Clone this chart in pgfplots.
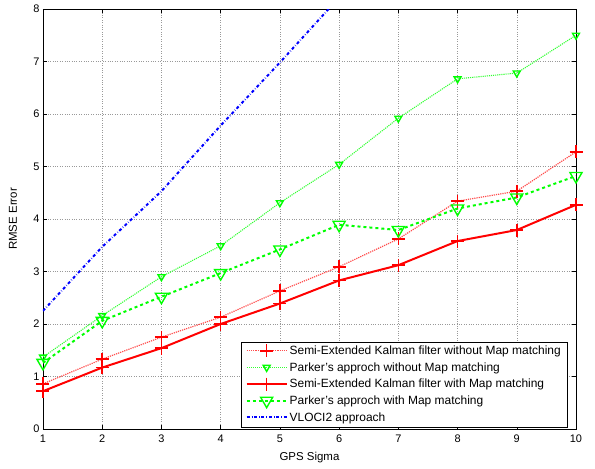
\documentclass[border=0pt]{standalone}
\usepackage{pgfplots}
\pgfplotsset{compat=1.18}
\usepackage{fontspec}
\setmainfont{Liberation Sans}
\definecolor{mred}{RGB}{255,0,0}
\definecolor{mgreen}{RGB}{0,255,0}
\definecolor{mblue}{RGB}{0,0,255}
\begin{document}
\begin{tikzpicture}
\begin{axis}[
 at={(0,0)}, anchor=south west, scale only axis, width=533bp, height=420bp,
 xmin=1,xmax=10,ymin=0,ymax=8,
 xtick={1,...,10}, ytick={0,...,8},
 grid=major, grid style={dotted, gray!80, line width=0.5pt},
 tick align=inside, major tick length=4bp,
 axis line style={black, line width=0.5pt},
 tick style={black, line width=0.5pt},
 tick label style={font=\fontsize{11}{12}\selectfont},
 xticklabel style={yshift=-2bp},
 /pgf/number format/assume math mode=true,
 xlabel={GPS Sigma}, ylabel={RMSE Error},
 label style={font=\fontsize{11.5}{13}\selectfont},
 xlabel style={at={(axis description cs:0.5,0)}, anchor=center, yshift=-29bp},
 ylabel style={at={(axis description cs:0,0.5)}, anchor=center, yshift=30bp},
 legend style={at={(0.983,0.005)}, anchor=south east, font=\fontsize{12}{13}\selectfont, draw=black, cells={anchor=west}, inner xsep=4pt, inner ysep=2pt, row sep=2.5pt},
 legend image code/.code={\draw[mark=none] (0bp,0.3bp) -- (40bp,0.3bp); \path plot coordinates {(20bp,0.3bp)};},
]
\addplot[mred!70, densely dotted, line width=1.2pt, mark=+, mark size=6.5bp, mark options={solid, mred, line width=1.6pt}] coordinates {
(1,0.86) (2,1.33) (3,1.75) (4,2.13) (5,2.63) (6,3.09) (7,3.62) (8,4.34) (9,4.53) (10,5.28)};
\addlegendentry{Semi-Extended Kalman filter without Map matching}
\addplot[mgreen!80, densely dotted, line width=1.1pt, mark=triangle, mark size=4bp, mark options={solid, mgreen, rotate=180, line width=1.4pt}] coordinates {
(1,1.37) (2,2.16) (3,2.9) (4,3.49) (5,4.31) (6,5.04) (7,5.92) (8,6.67) (9,6.78) (10,7.5)};
\addlegendentry{Parker's approch without Map matching}
\addplot[mred, solid, line width=2pt, mark=+, mark size=6.5bp, mark options={solid, mred, line width=1.6pt}] coordinates {
(1,0.72) (2,1.17) (3,1.54) (4,2.0) (5,2.39) (6,2.83) (7,3.12) (8,3.58) (9,3.79) (10,4.27)};
\addlegendentry{Semi-Extended Kalman filter with Map matching}
\addplot[mgreen, dashed, line width=2pt, mark=triangle, mark size=7bp, mark options={solid, mgreen, rotate=180, line width=1.4pt}] coordinates {
(1,1.26) (2,2.06) (3,2.52) (4,2.97) (5,3.42) (6,3.89) (7,3.79) (8,4.2) (9,4.41) (10,4.82)};
\addlegendentry{Parker's approch with Map matching}
\addplot[mblue, dash dot, line width=2pt] coordinates {
(1,2.25) (2,3.47) (3,4.53) (4,5.78) (5,6.98) (6,8.22)};
\addlegendentry{VLOCI2 approach}
\end{axis}
\path[use as bounding box] (-43bp,-40bp) rectangle (552bp,429bp);
\end{tikzpicture}
\end{document}
